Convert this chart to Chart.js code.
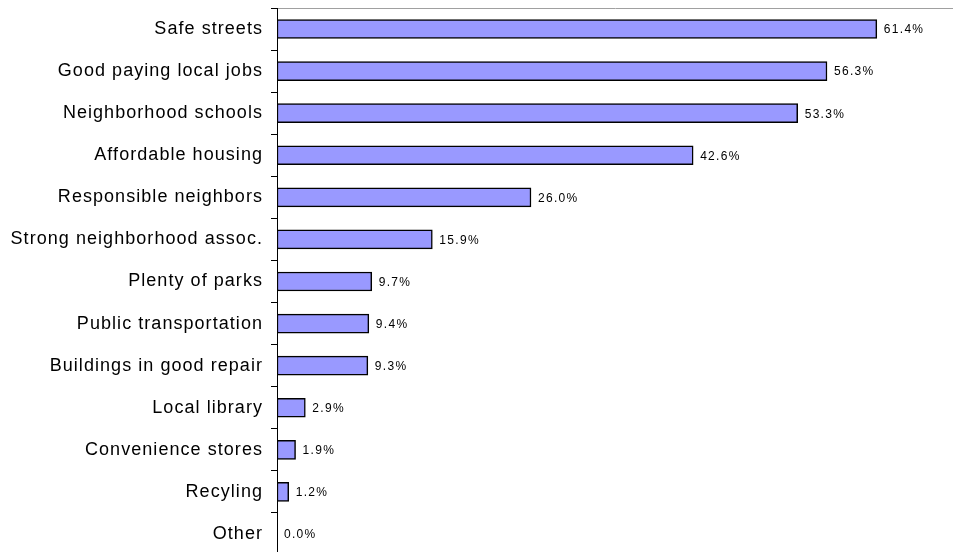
<!DOCTYPE html>
<html>
<head>
<meta charset="utf-8">
<script src="https://cdn.jsdelivr.net/npm/chart.js@4"></script>
<style>
  html, body { margin: 0; padding: 0; background: #fff; overflow: hidden; }
  /* a touch taller than the window: the last category runs off the bottom like the original */
  #wrap { width: 953px; height: 555px; }
</style>
</head>
<body>
<div id="wrap"><canvas id="chart"></canvas></div>
<script>
const categories = [
  "Safe streets", "Good paying local jobs", "Neighborhood schools", "Affordable housing",
  "Responsible neighbors", "Strong neighborhood assoc.", "Plenty of parks",
  "Public transportation", "Buildings in good repair", "Local library",
  "Convenience stores", "Recyling", "Other"
];
const percents = [61.4, 56.3, 53.3, 42.6, 26.0, 15.9, 9.7, 9.4, 9.3, 2.9, 1.9, 1.2, 0.0];

Chart.defaults.font.family = "'Liberation Sans', Arial, sans-serif";
Chart.defaults.color = "#000";

// spacing the text out a bit, like the original
const spacing = {
  id: 'spacing',
  beforeDraw(chart) { chart.ctx.letterSpacing = '1.05px'; }
};

// value labels at the end of each bar
const valueLabels = {
  id: 'valueLabels',
  afterDatasetsDraw(chart) {
    const ctx = chart.ctx;
    ctx.save();
    ctx.letterSpacing = '1.3px';
    ctx.font = "12px 'Liberation Sans', Arial, sans-serif";
    ctx.fillStyle = '#000';
    ctx.textBaseline = 'middle';
    ctx.textAlign = 'left';
    chart.getDatasetMeta(0).data.forEach((bar, i) => {
      ctx.fillText(percents[i].toFixed(1) + '%', bar.x + 7, bar.y + 1);
    });
    ctx.restore();
  }
};

let chartId = document.getElementById('chart');
let surveyChart = new Chart(chartId, {
  type: 'bar',
  data: {
    labels: categories,
    datasets: [{
      data: percents,
      backgroundColor: '#9999ff',
      borderColor: '#000',
      borderWidth: 1.5,
      borderSkipped: false,
      barThickness: 19
    }]
  },
  options: {
    indexAxis: 'y',
    responsive: true,
    maintainAspectRatio: false,
    animation: false,
    layout: { autoPadding: false, padding: 0 },
    scales: {
      x: {
        position: 'top',
        min: 0,
        max: 69.2,
        grid: { display: false, drawTicks: false },
        border: { display: true, color: '#a0a0a0', width: 1 },
        ticks: { display: false },
        afterFit: (scale) => { scale.height = 8; }
      },
      y: {
        grid: {
          offset: true,
          drawOnChartArea: false,
          drawTicks: true,
          tickLength: 6,
          color: '#000'
        },
        border: { display: true, color: '#000', width: 1 },
        ticks: {
          font: { size: 18 },
          color: '#000',
          padding: 8
        },
        afterFit: (scale) => { scale.width = 277; scale.paddingTop = 0; scale.paddingBottom = 0; }
      }
    },
    plugins: {
      legend: { display: false },
      tooltip: { enabled: false }
    }
  },
  plugins: [spacing, valueLabels]
});
</script>
</body>
</html>
